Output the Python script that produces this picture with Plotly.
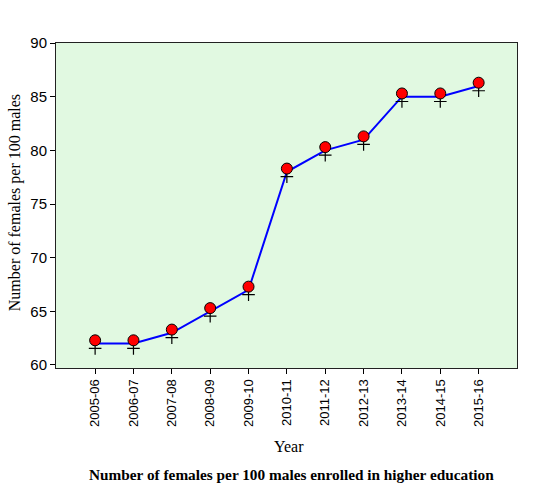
import plotly.graph_objects as go

years = ["2005-06", "2006-07", "2007-08", "2008-09", "2009-10", "2010-11",
         "2011-12", "2012-13", "2013-14", "2014-15", "2015-16"]
line_vals = [62, 62, 63, 65, 67, 78, 80, 81, 85, 85, 86]
circle_vals = [62.3, 62.3, 63.3, 65.3, 67.3, 78.3, 80.3, 81.3, 85.3, 85.3, 86.3]
plus_vals = [61.55, 61.55, 62.55, 64.55, 66.55, 77.55, 79.55, 80.55, 84.55, 84.55, 85.55]
y_ticks = [60, 65, 70, 75, 80, 85, 90]

idx = list(range(len(years)))

fig = go.Figure()
fig.add_trace(go.Scatter(x=idx, y=line_vals, mode="lines",
                         line=dict(color="#0000FF", width=2), hoverinfo="skip"))
fig.add_trace(go.Scatter(x=idx, y=plus_vals, mode="markers",
                         marker=dict(symbol="cross-thin", size=9,
                                     line=dict(color="black", width=1.2))))
fig.add_trace(go.Scatter(x=idx, y=circle_vals, mode="markers",
                         marker=dict(symbol="circle", size=11, color="#FF0000",
                                     line=dict(color="black", width=1))))

fig.update_layout(
    width=560, height=492,
    margin=dict(l=56, r=43, t=43, b=124),
    paper_bgcolor="white",
    plot_bgcolor="#E1F9E1",
    showlegend=False,
    font=dict(family="Liberation Sans, Arial", color="black"),
)
fig.update_xaxes(
    range=[-1.02, 11.0], tickmode="array", tickvals=idx, ticktext=years,
    tickangle=-90, ticks="outside", ticklen=5, tickcolor="black",
    tickfont=dict(size=13, family="Liberation Sans, Arial"),
    showline=True, linecolor="#222", linewidth=1, mirror=True,
    showgrid=False, zeroline=False,
)
fig.update_yaxes(
    range=[59.72, 90.0], tickmode="array", tickvals=y_ticks,
    ticks="outside", ticklen=5, tickcolor="black",
    tickfont=dict(size=15, family="Liberation Sans, Arial"),
    showline=True, linecolor="#222", linewidth=1, mirror=True,
    showgrid=False, zeroline=False,
)
fig.add_annotation(text="Number of females per 100 males", textangle=-90,
                   xref="paper", yref="paper", x=-0.089, y=0.51,
                   xanchor="center", yanchor="middle", showarrow=False,
                   font=dict(family="Liberation Serif, Times New Roman", size=16))
fig.add_annotation(text="Year", xref="paper", yref="paper",
                   x=0.505, y=-0.243, xanchor="center", yanchor="middle",
                   showarrow=False,
                   font=dict(family="Liberation Serif, Times New Roman", size=16))
fig.add_annotation(text="<b>Number of females per 100 males enrolled in higher education</b>",
                   xref="paper", yref="paper", x=0.51, y=-0.327,
                   xanchor="center", yanchor="middle", showarrow=False,
                   font=dict(family="Liberation Serif, Times New Roman", size=15.3))

fig.write_html("out.html")
